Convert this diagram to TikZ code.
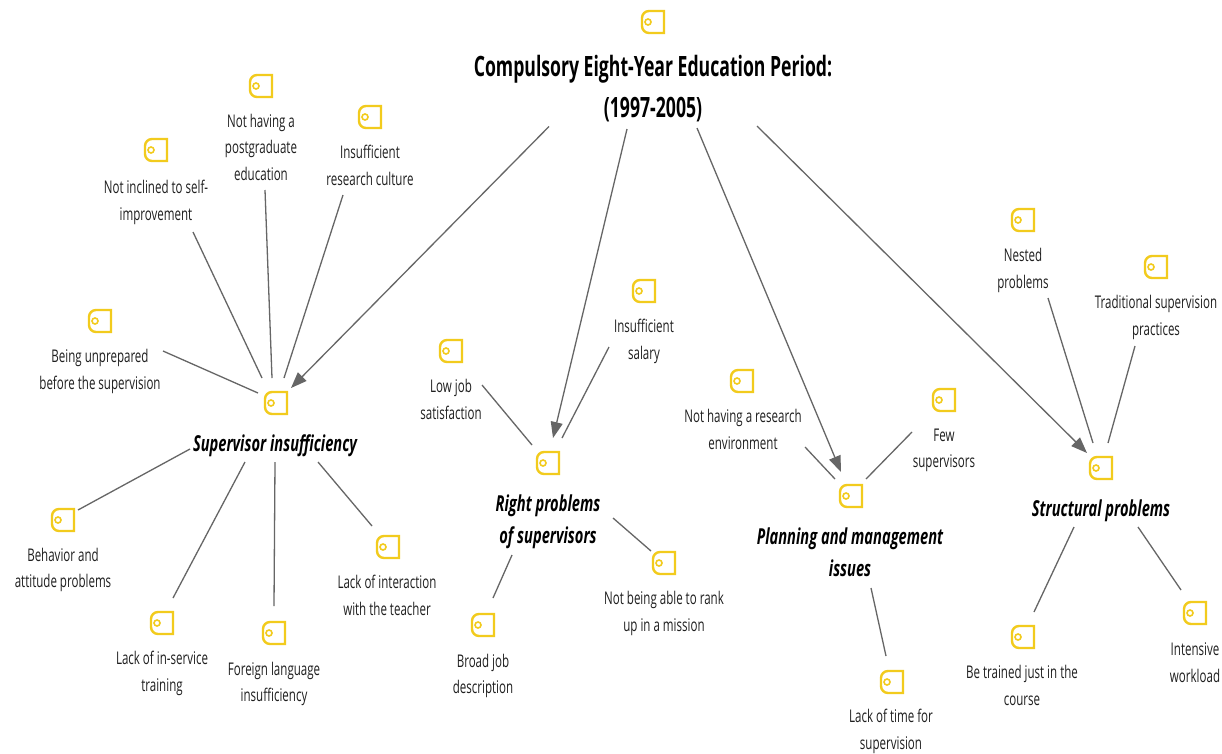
\documentclass[tikz,border=0pt]{standalone}
\usepackage{fontspec}
\setmainfont[FakeStretch=0.66]{Open Sans}
\newfontfamily\hubfamily[FakeStretch=0.667]{Open Sans}
\newfontfamily\titlefamily[FakeStretch=0.63]{Open Sans}
\usetikzlibrary{arrows.meta}
\definecolor{tagyellow}{HTML}{F2CB1D}
\definecolor{linkgray}{HTML}{666666}
\tikzset{
  tagicon/.style={minimum size=25pt,inner sep=0pt,path picture={
    \begin{scope}[shift={(path picture bounding box.center)}]
      \draw[tagyellow,line width=2.4pt,rounded corners=7pt](11,-11)--(-11,-11)--(-11,11)[sharp corners]--(11,11)--cycle;
      \draw[tagyellow,line width=1.6pt](-5,0)circle(3pt);
    \end{scope}}},
  labeltext/.style={inner sep=0pt,align=center,text=black!88,font=\fontsize{17.5}{26.5}\selectfont},
  hubtext/.style={inner sep=0pt,align=center,font=\hubfamily\fontsize{22}{32}\selectfont\bfseries\itshape},
  titletext/.style={inner sep=0pt,align=center,font=\titlefamily\fontsize{28}{41}\selectfont\bfseries},
  link/.style={linkgray,line width=1.3pt},
  arrowlink/.style={link,-{Triangle[length=16pt,width=12pt]}}
}
\begin{document}
\begin{tikzpicture}[x=1pt,y=-1pt]
    \useasboundingbox[fill=white](0,0)rectangle(1222,753);
    % period
    \node[tagicon](titleicon)at(653,22){};
    \node[titletext](title)at(653,88.5){Compulsory Eight-Year Education Period:\\(1997-2005)};
    % supervisor insufficiency
    \node[tagicon](supervisoricon)at(276,403){};
    \node[hubtext](supervisor)at(275,445.5){Supervisor insufficiency};
    \node[tagicon](inclinedicon)at(156,150){};
    \node[labeltext](inclined)at(156,202.5){Not inclined to self-\\improvement};
    \node[tagicon](postgradicon)at(261,86){};
    \node[labeltext](postgrad)at(261,147){Not having a\\postgraduate\\education};
    \node[tagicon](cultureicon)at(370,117){};
    \node[labeltext](culture)at(370,165.5){Insufficient\\research culture};
    \node[tagicon](unpreparedicon)at(100,321){};
    \node[labeltext](unprepared)at(100,371.5){Being unprepared\\before the supervision};
    \node[tagicon](behavioricon)at(63,520){};
    \node[labeltext](behavior)at(63,570){Behavior and\\attitude problems};
    \node[tagicon](inserviceicon)at(162,623){};
    \node[labeltext](inservice)at(162,673.5){Lack of in-service\\training};
    \node[tagicon](languageicon)at(274,633){};
    \node[labeltext](language)at(274,684){Foreign language\\insufficiency};
    \node[tagicon](interactionicon)at(388,547){};
    \node[labeltext](interaction)at(387,595.5){Lack of interaction\\with the teacher};
    % right problems
    \node[tagicon](rightsicon)at(548,463){};
    \node[hubtext](rights)at(548,522){Right problems\\of supervisors};
    \node[tagicon](satisfactionicon)at(451,351){};
    \node[labeltext](satisfaction)at(451,399.5){Low job\\satisfaction};
    \node[tagicon](salaryicon)at(644,291){};
    \node[labeltext](salary)at(644,341.5){Insufficient\\salary};
    \node[tagicon](descriptionicon)at(483,625){};
    \node[labeltext](description)at(483,676){Broad job\\description};
    \node[tagicon](rankicon)at(664,563){};
    \node[labeltext](rank)at(664,613.5){Not being able to rank\\up in a mission};
    % planning
    \node[tagicon](planningicon)at(851,496){};
    \node[hubtext](planning)at(850,552){Planning and management\\issues};
    \node[tagicon](environmenticon)at(742,381){};
    \node[labeltext](environment)at(743,429.5){Not having a research\\environment};
    \node[tagicon](fewicon)at(944,400){};
    \node[labeltext](few)at(944,450.5){Few\\supervisors};
    \node[tagicon](timeicon)at(892,682){};
    \node[labeltext](time)at(891,731.5){Lack of time for\\supervision};
    % structural
    \node[tagicon](structuralicon)at(1101,468){};
    \node[hubtext](structural)at(1101,510.5){Structural problems};
    \node[tagicon](nestedicon)at(1023,220){};
    \node[labeltext](nested)at(1023,270.5){Nested\\problems};
    \node[tagicon](traditionalicon)at(1156,267){};
    \node[labeltext](traditional)at(1156,317.5){Traditional supervision\\practices};
    \node[tagicon](coursesicon)at(1023,637){};
    \node[labeltext](courses)at(1022,685.5){Be trained just in the\\course};
    \node[tagicon](workloadicon)at(1195,613){};
    \node[labeltext](workload)at(1195,662.5){Intensive\\workload};
    % arrows from the period
    \draw[arrowlink]([shift={(-104,38)}]title.center)--([shift={(15,-15)}]supervisoricon.center);
    \draw[arrowlink]([shift={(-26,40.5)}]title.center)--([shift={(5,-25)}]rightsicon.center);
    \draw[arrowlink]([shift={(44,39.5)}]title.center)--([shift={(-10,-24)}]planningicon.center);
    \draw[arrowlink]([shift={(104,37.5)}]title.center)--([shift={(-14,-15)}]structuralicon.center);
    % links
    \draw[link]([shift={(37,29.5)}]inclined.center)--([shift={(-14,-25)}]supervisoricon.center);
    \draw[link]([shift={(4,43)}]postgrad.center)--([shift={(-4,-25)}]supervisoricon.center);
    \draw[link]([shift={(-27,29.5)}]culture.center)--([shift={(8,-25)}]supervisoricon.center);
    \draw[link]([shift={(63,-20.5)}]unprepared.center)--([shift={(-18,-10)}]supervisoricon.center);
    \draw[link]([shift={(-85,3.5)}]supervisor.center)--([shift={(15,-10)}]behavioricon.center);
    \draw[link]([shift={(-30,16.5)}]supervisor.center)--([shift={(11,-25)}]inserviceicon.center);
    \draw[link]([shift={(0,16.5)}]supervisor.center)--([shift={(0,-27)}]languageicon.center);
    \draw[link]([shift={(43,16.5)}]supervisor.center)--([shift={(-16,-21)}]interactionicon.center);
    \draw[link]([shift={(31,-14.5)}]satisfaction.center)--([shift={(-16,-18)}]rightsicon.center);
    \draw[link]([shift={(-35,5.5)}]salary.center)--([shift={(14,-25)}]rightsicon.center);
    \draw[link]([shift={(-36,33)}]rights.center)--([shift={(10,-27)}]descriptionicon.center);
    \draw[link]([shift={(65,-4)}]rights.center)--([shift={(-13,-12)}]rankicon.center);
    \draw[link]([shift={(62,17.5)}]environment.center)--([shift={(-16,-17)}]planningicon.center);
    \draw[link]([shift={(-32,-18.5)}]few.center)--([shift={(15,-17)}]planningicon.center);
    \draw[link]([shift={(21,36)}]planning.center)--([shift={(-6,-26)}]timeicon.center);
    \draw[link]([shift={(25,27.5)}]nested.center)--([shift={(-8,-25)}]structuralicon.center);
    \draw[link]([shift={(-21,28.5)}]traditional.center)--([shift={(7,-25)}]structuralicon.center);
    \draw[link]([shift={(-27,16.5)}]structural.center)--([shift={(11,-25)}]coursesicon.center);
    \draw[link]([shift={(37,16.5)}]structural.center)--([shift={(-14,-23)}]workloadicon.center);
  \end{tikzpicture}
\end{document}
